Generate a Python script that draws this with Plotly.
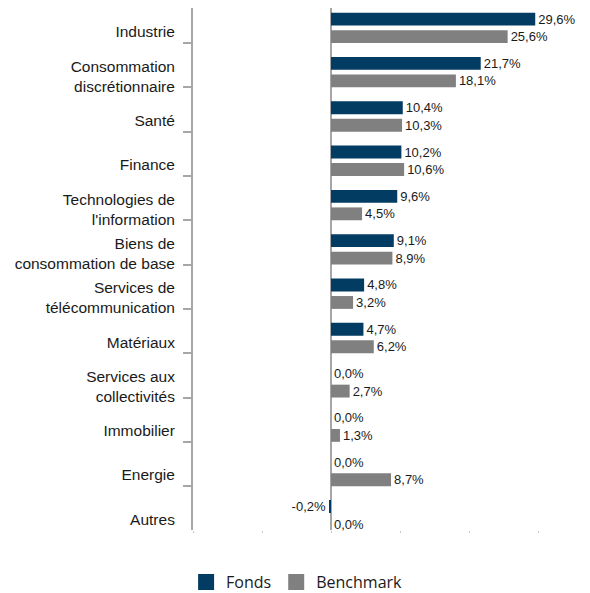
import plotly.graph_objects as go

categories = [
    "Industrie",
    "Consommation<br>discrétionnaire",
    "Santé",
    "Finance",
    "Technologies de<br>l'information",
    "Biens de<br>consommation de base",
    "Services de<br>télécommunication",
    "Matériaux",
    "Services aux<br>collectivités",
    "Immobilier",
    "Energie",
    "Autres",
]
fonds = [29.6, 21.7, 10.4, 10.2, 9.6, 9.1, 4.8, 4.7, 0.0, 0.0, 0.0, -0.2]
benchmark = [25.6, 18.1, 10.3, 10.6, 4.5, 8.9, 3.2, 6.2, 2.7, 1.3, 8.7, 0.0]
x_ticks = [-20, -10, 0, 10, 20, 30]

NAVY = "#033c63"
GREY = "#808080"
AXIS = "#a6a6a6"

pos = list(range(len(categories)))


def fmt(v):
    return f"{v:.1f}%".replace(".", ",")


fig = go.Figure()
fig.add_trace(go.Bar(
    y=pos, x=fonds, orientation="h", name="Fonds",
    marker=dict(color=NAVY, line=dict(width=0)),
    width=0.29, offset=-0.185,
    text=[fmt(v) for v in fonds], textposition="outside",
    textfont=dict(size=13, color="#1a1a1a"), cliponaxis=False,
    constraintext="none", showlegend=False,
))
fig.add_trace(go.Bar(
    y=pos, x=benchmark, orientation="h", name="Benchmark",
    marker=dict(color=GREY, line=dict(width=0)),
    width=0.29, offset=0.21,
    text=[fmt(v) for v in benchmark], textposition="outside",
    textfont=dict(size=13, color="#1a1a1a"), cliponaxis=False,
    constraintext="none", showlegend=False,
))
# legend entries
for name, col in [("Fonds", NAVY), ("Benchmark", GREY)]:
    fig.add_trace(go.Scatter(
        x=[None], y=[None], mode="markers", name=name,
        marker=dict(symbol="square", size=16, color=col),
    ))

fig.update_layout(
    width=582, height=585, autosize=False,
    margin=dict(l=185, r=52, t=0, b=63, autoexpand=False),
    paper_bgcolor="white", plot_bgcolor="white",
    font=dict(family="Liberation Sans, Arial, sans-serif", size=15.5, color="#1a1a1a"),
    barmode="overlay",
    showlegend=True,
    legend=dict(
        orientation="h", x=-0.02, xanchor="left", y=-0.1, yanchor="middle",
        font=dict(family="Open Sans", size=16, color="#1a1a1a"),
        itemsizing="trace", traceorder="normal",
    ),
)
fig.update_xaxes(
    range=[-20, 30], tickvals=x_ticks, showticklabels=False,
    ticks="outside", ticklen=2, tickwidth=1, tickcolor="#c8c8c8",
    showgrid=False, zeroline=True, zerolinecolor=AXIS, zerolinewidth=2,
    showline=False, fixedrange=True,
)
fig.update_yaxes(
    range=[len(categories) - 0.51, -0.29],
    tickmode="array", tickvals=[p + 0.25 for p in pos], ticktext=categories,
    ticks="", ticklabelstandoff=13,
    minor=dict(tickmode="array", tickvals=[p + 0.5 for p in pos[:-1]],
               ticks="outside", ticklen=8, tickwidth=2, tickcolor=AXIS,
               showgrid=False),
    showline=True, linecolor=AXIS, linewidth=2,
    showgrid=False, zeroline=False, fixedrange=True,
)

fig.write_html("out.html")
